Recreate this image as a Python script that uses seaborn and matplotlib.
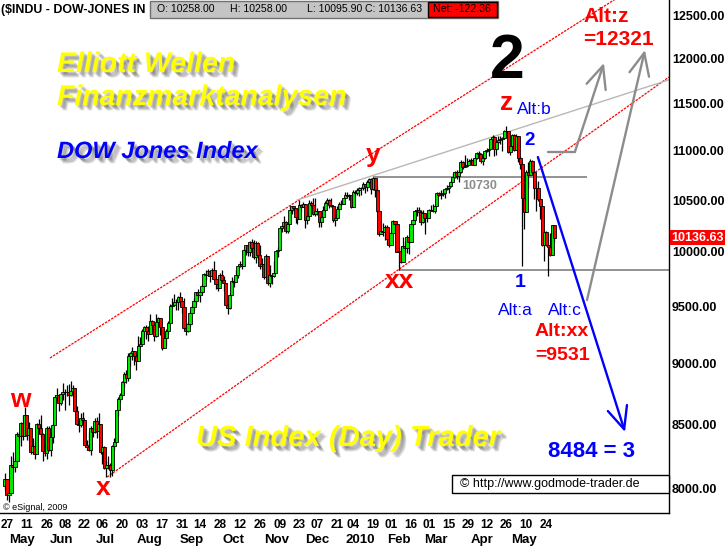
import numpy as np
import pandas as pd
import matplotlib
matplotlib.use("Agg")
import matplotlib.pyplot as plt
import matplotlib.patheffects as pe
import matplotlib.transforms as mtransforms
from matplotlib.patches import Rectangle
from matplotlib.ticker import NullLocator, NullFormatter
import seaborn as sns

# ---------------- data ----------------
start_date = "2009-04-24"
end_date = "2010-05-28"
holidays = ["2009-05-25", "2009-07-03", "2009-09-07", "2009-11-26", "2009-12-25",
            "2010-01-01", "2010-01-18", "2010-02-15", "2010-04-02"]

opens = [8025, 8075, 7955, 7970, 8185, 8168, 8212, 8426, 8410, 8512,
         8410, 8575, 8418, 8469, 8284, 8331, 8268, 8504, 8474, 8422,
         8292, 8277, 8473, 8300, 8404, 8500, 8721, 8740, 8675, 8750,
         8763, 8764, 8763, 8739, 8771, 8799, 8612, 8505, 8497, 8556,
         8540, 8339, 8323, 8300, 8472, 8438, 8529, 8447, 8504, 8280,
         8324, 8163, 8179, 8183, 8147, 8332, 8360, 8616, 8711, 8743,
         8848, 8916, 8882, 9069, 9093, 9108, 9070, 9027, 9155, 9172,
         9287, 9320, 9280, 9256, 9370, 9338, 9242, 9362, 9399, 9321,
         9136, 9218, 9280, 9350, 9506, 9510, 9540, 9543, 9581, 9545,
         9496, 9310, 9281, 9345, 9442, 9497, 9547, 9628, 9606, 9626,
         9684, 9792, 9784, 9821, 9779, 9829, 9748, 9707, 9665, 9789,
         9742, 9712, 9509, 9488, 9600, 9731, 9725, 9786, 9865, 9885,
         9871, 10016, 10063, 9996, 10092, 10041, 9950, 10081, 9972, 9868,
         9883, 9763, 9963, 9713, 9789, 9772, 9803, 10005, 10023, 10227,
         10247, 10291, 10197, 10271, 10407, 10438, 10426, 10332, 10319, 10451,
         10433, 10464, 10310, 10345, 10472, 10453, 10367, 10389, 10390, 10286,
         10338, 10405, 10471, 10502, 10452, 10441, 10309, 10329, 10414, 10464,
         10467, 10520, 10548, 10545, 10548, 10428, 10584, 10573, 10606, 10619,
         10618, 10663, 10628, 10681, 10711, 10610, 10726, 10604, 10390, 10173,
         10196, 10194, 10236, 10120, 10067, 10185, 10297, 10271, 10003, 10012,
         9908, 10058, 10038, 10144, 10099, 10269, 10309, 10392, 10403, 10383,
         10283, 10375, 10321, 10325, 10404, 10405, 10397, 10445, 10567, 10553,
         10564, 10568, 10612, 10625, 10643, 10686, 10734, 10779, 10742, 10786,
         10888, 10836, 10841, 10851, 10896, 10907, 10857, 10927, 10974, 10970,
         10898, 10928, 10998, 11005, 11019, 11123, 11145, 11019, 11093, 11117,
         11125, 11135, 11205, 11206, 10991, 11045, 11168, 11009, 11152, 10926,
         10868, 10520, 10380, 10785, 10749, 10897, 10782, 10620, 10626, 10511,
         10444, 10069, 10193, 10067, 10044, 9974, 10258]

highs = [8119, 8076, 8050, 8250, 8280, 8240, 8437, 8440, 8520, 8580,
         8640, 8575, 8520, 8470, 8390, 8370, 8510, 8545, 8580, 8430,
         8350, 8490, 8490, 8440, 8510, 8740, 8800, 8740, 8760, 8840,
         8790, 8820, 8830, 8860, 8820, 8799, 8650, 8540, 8590, 8600,
         8540, 8380, 8440, 8490, 8480, 8550, 8560, 8590, 8504, 8330,
         8330, 8210, 8250, 8200, 8340, 8390, 8620, 8720, 8760, 8860,
         8930, 8950, 9090, 9100, 9140, 9110, 9080, 9240, 9230, 9300,
         9330, 9340, 9330, 9430, 9380, 9338, 9430, 9410, 9400, 9321,
         9240, 9300, 9370, 9520, 9580, 9610, 9570, 9590, 9630, 9545,
         9580, 9350, 9360, 9460, 9510, 9580, 9630, 9660, 9630, 9700,
         9800, 9830, 9840, 9821, 9850, 9920, 9780, 9740, 9800, 9830,
         9780, 9712, 9530, 9620, 9770, 9750, 9830, 9870, 9920, 9890,
         10030, 10070, 10063, 10100, 10120, 10110, 10100, 10090, 10070, 9940,
         9890, 9980, 9963, 9880, 9790, 9920, 10010, 10050, 10230, 10260,
         10340, 10300, 10290, 10440, 10440, 10440, 10426, 10340, 10500, 10460,
         10480, 10464, 10370, 10500, 10490, 10520, 10520, 10420, 10390, 10350,
         10440, 10490, 10520, 10510, 10520, 10441, 10360, 10440, 10480, 10500,
         10520, 10580, 10580, 10560, 10550, 10600, 10600, 10620, 10630, 10630,
         10680, 10663, 10700, 10720, 10720, 10729, 10726, 10640, 10400, 10270,
         10280, 10260, 10260, 10230, 10190, 10310, 10300, 10271, 10040, 10060,
         10140, 10100, 10160, 10144, 10270, 10320, 10400, 10430, 10430, 10400,
         10400, 10375, 10370, 10410, 10450, 10460, 10450, 10580, 10580, 10600,
         10600, 10615, 10650, 10650, 10700, 10770, 10790, 10800, 10800, 10900,
         10890, 10960, 10930, 10910, 10930, 10920, 10960, 10990, 11000, 10980,
         10950, 11000, 11030, 11030, 11130, 11160, 11150, 11100, 11150, 11150,
         11140, 11220, 11258, 11210, 11060, 11180, 11170, 11170, 11152, 10950,
         10880, 10520, 10805, 10880, 10910, 10900, 10782, 10680, 10690, 10520,
         10444, 10210, 10200, 10067, 10180, 10260, 10258]

lows = [7991, 7920, 7900, 7970, 8120, 8130, 8212, 8340, 8330, 8375,
        8410, 8380, 8370, 8270, 8270, 8230, 8268, 8440, 8400, 8210,
        8250, 8230, 8295, 8250, 8350, 8500, 8690, 8610, 8660, 8700,
        8620, 8730, 8660, 8730, 8720, 8590, 8500, 8440, 8480, 8500,
        8330, 8300, 8290, 8260, 8400, 8430, 8390, 8447, 8270, 8190,
        8150, 8090, 8150, 8090, 8100, 8300, 8360, 8570, 8680, 8743,
        8810, 8840, 8860, 8980, 9030, 8990, 8950, 9027, 9140, 9172,
        9230, 9210, 9200, 9256, 9290, 9200, 9230, 9320, 9250, 9120,
        9136, 9150, 9260, 9350, 9490, 9510, 9470, 9470, 9510, 9440,
        9290, 9250, 9270, 9330, 9442, 9470, 9510, 9580, 9540, 9600,
        9684, 9740, 9780, 9720, 9779, 9740, 9660, 9640, 9665, 9720,
        9640, 9500, 9430, 9480, 9600, 9680, 9725, 9760, 9860, 9840,
        9871, 9970, 9960, 9960, 9990, 9930, 9900, 9930, 9840, 9840,
        9750, 9763, 9690, 9680, 9700, 9770, 9803, 9950, 10023, 10190,
        10247, 10180, 10180, 10271, 10360, 10380, 10280, 10270, 10319, 10380,
        10430, 10230, 10270, 10345, 10420, 10350, 10340, 10350, 10240, 10240,
        10338, 10405, 10460, 10420, 10430, 10290, 10250, 10329, 10414, 10440,
        10467, 10520, 10530, 10500, 10420, 10428, 10530, 10550, 10540, 10550,
        10600, 10570, 10590, 10660, 10560, 10600, 10530, 10370, 10150, 10170,
        10150, 10110, 10080, 10050, 10067, 10185, 10230, 10000, 9835, 9900,
        9908, 9960, 9990, 9980, 10099, 10260, 10300, 10340, 10350, 10260,
        10280, 10170, 10290, 10325, 10390, 10380, 10370, 10445, 10540, 10510,
        10540, 10520, 10600, 10570, 10630, 10686, 10720, 10710, 10680, 10770,
        10810, 10830, 10830, 10850, 10860, 10850, 10857, 10920, 10930, 10870,
        10850, 10920, 10990, 10950, 11019, 11100, 10950, 10960, 11080, 11070,
        11000, 11120, 11190, 10980, 10960, 11045, 11000, 11009, 10880, 10810,
        9870, 10220, 10380, 10620, 10749, 10770, 10510, 10390, 10490, 10320,
        10060, 9920, 10060, 9774, 9960, 9974, 10096]

closes = [8076, 7957, 7970, 8185, 8168, 8212, 8426, 8410, 8512, 8409,
          8575, 8418, 8469, 8284, 8331, 8268, 8504, 8474, 8422, 8292,
          8277, 8473, 8300, 8404, 8500, 8721, 8740, 8675, 8750, 8763,
          8764, 8763, 8739, 8771, 8799, 8612, 8505, 8497, 8556, 8540,
          8339, 8323, 8300, 8472, 8438, 8529, 8447, 8504, 8280, 8324,
          8163, 8179, 8183, 8147, 8332, 8360, 8616, 8711, 8743, 8848,
          8916, 8882, 9069, 9093, 9108, 9070, 9027, 9155, 9172, 9287,
          9320, 9280, 9256, 9370, 9338, 9242, 9362, 9399, 9321, 9136,
          9218, 9280, 9350, 9506, 9510, 9540, 9543, 9581, 9545, 9496,
          9310, 9281, 9345, 9442, 9497, 9547, 9628, 9606, 9626, 9684,
          9792, 9784, 9821, 9779, 9829, 9748, 9707, 9665, 9789, 9742,
          9712, 9509, 9488, 9600, 9731, 9725, 9786, 9865, 9885, 9871,
          10016, 10063, 9996, 10092, 10041, 9950, 10081, 9972, 9868, 9883,
          9763, 9963, 9713, 9789, 9772, 9803, 10005, 10023, 10227, 10247,
          10291, 10197, 10271, 10407, 10438, 10426, 10332, 10319, 10451, 10433,
          10464, 10310, 10345, 10472, 10453, 10367, 10389, 10390, 10286, 10338,
          10405, 10471, 10502, 10452, 10441, 10309, 10329, 10414, 10464, 10467,
          10520, 10548, 10545, 10548, 10428, 10584, 10573, 10606, 10619, 10618,
          10663, 10628, 10681, 10711, 10610, 10726, 10604, 10390, 10173, 10196,
          10194, 10236, 10120, 10067, 10185, 10297, 10271, 10003, 10012, 9908,
          10058, 10038, 10144, 10099, 10269, 10309, 10392, 10403, 10383, 10283,
          10375, 10321, 10325, 10404, 10405, 10397, 10445, 10567, 10553, 10564,
          10568, 10612, 10625, 10643, 10686, 10734, 10779, 10742, 10786, 10888,
          10836, 10841, 10851, 10896, 10907, 10857, 10927, 10974, 10970, 10898,
          10928, 10998, 11005, 11019, 11123, 11145, 11019, 11093, 11117, 11125,
          11135, 11205, 11206, 10991, 11045, 11168, 11009, 11152, 10926, 10868,
          10520, 10380, 10785, 10749, 10897, 10782, 10620, 10626, 10511, 10444,
          10069, 10193, 10067, 10044, 9974, 10259, 10137]

tick_dates = ["2009-04-27", "2009-05-11", "2009-05-26", "2009-06-08", "2009-06-22",
              "2009-07-06", "2009-07-20", "2009-08-03", "2009-08-17", "2009-08-31",
              "2009-09-14", "2009-09-28", "2009-10-12", "2009-10-26", "2009-11-09",
              "2009-11-23", "2009-12-07", "2009-12-21", "2010-01-04", "2010-01-19",
              "2010-02-01", "2010-02-16", "2010-03-01", "2010-03-15", "2010-03-29",
              "2010-04-12", "2010-04-26", "2010-05-10", "2010-05-24"]
tick_labels = ["27", "11", "26", "08", "22", "06", "20", "03", "17", "31", "14", "28",
               "12", "26", "09", "23", "07", "21", "04", "19", "01", "16", "01", "15",
               "29", "12", "26", "10", "24"]
month_labels = ["May", "Jun", "Jul", "Aug", "Sep", "Oct", "Nov", "Dec", "2010",
                "Feb", "Mar", "Apr", "May"]
month_starts = ["2009-05-01", "2009-06-01", "2009-07-01", "2009-08-03", "2009-09-01",
                "2009-10-01", "2009-11-02", "2009-12-01", "2010-01-04", "2010-02-01",
                "2010-03-01", "2010-04-01", "2010-05-03"]
y_ticks = [8000, 8500, 9000, 9500, 10000, 10500, 11000, 11500, 12000, 12500]

hdr_open, hdr_high, hdr_low, hdr_close, hdr_net = 10258.00, 10258.00, 10095.90, 10136.63, -122.36
last_close = 10136.63
level_10730 = 10730
level_xx = 9832

# annotation geometry (trading-day index, price)
upper_channel_x, upper_channel_y = [22.6, 310.0], [9050, 12738]
lower_channel_x, lower_channel_y = [51.3, 333.7], [8090, 11791]
silver_x, silver_y = [146.7, 333.7], [10501, 11760]
line10730_x = [185, 292.5]
linexx_x = [198, 334]
blue_start, blue_end = (267.8, 10935), (311.6, 8441)
alt1_flat_x, alt1_flat_y = [272.9, 286.4], [10988, 10988]
alt1_tip = (301.0, 11948)
alt2_start, alt2_tip = (292.5, 9558), (321.6, 12095)

# ---------------- figure ----------------
sns.set_style("white")
plt.rcParams["font.family"] = ["Liberation Sans", "DejaVu Sans"]

W, H = 726, 547
fig = plt.figure(figsize=(W / 100, H / 100), dpi=100)
fig.patch.set_facecolor("white")
ax = fig.add_axes([0, (H - 513) / H, 669 / W, 513 / H])
ax.set_facecolor("white")

dates = pd.bdate_range(start_date, end_date)
dates = dates[~dates.isin(pd.to_datetime(holidays))]
n = min(len(dates), len(closes))
dates = dates[:n]
o = np.array(opens[:n], float)
h = np.array(highs[:n], float)
l = np.array(lows[:n], float)
c = np.array(closes[:n], float)
xi = np.arange(n)

ax.set_yscale("log")
ax.set_xlim(-2.51, 333.7)
ax.set_ylim(7821, 12678)

# trend / channel lines
red_dot = (0, (2.0, 0.9))
sns.lineplot(x=upper_channel_x, y=upper_channel_y, ax=ax, color="#ff0000", lw=0.9,
             linestyle=red_dot, errorbar=None, sort=False, zorder=1)
sns.lineplot(x=lower_channel_x, y=lower_channel_y, ax=ax, color="#ff0000", lw=0.9,
             linestyle=red_dot, errorbar=None, sort=False, zorder=1)
sns.lineplot(x=silver_x, y=silver_y, ax=ax, color="#b8b8b8", lw=1.0,
             errorbar=None, sort=False, zorder=1)
ax.hlines(level_10730, line10730_x[0], line10730_x[1], color="#8a8a8a", lw=1.3, zorder=1)
ax.hlines(level_xx, linexx_x[0], linexx_x[1], color="#8a8a8a", lw=1.3, zorder=1)

# candles
up = c >= o
body_colors = np.where(up, "#00e800", "#ff0000")
ax.vlines(xi, l, h, color="black", lw=0.9, zorder=3)
bottoms = np.minimum(o, c)
heights = np.maximum(np.maximum(o, c) - bottoms, 0.5)
ax.bar(xi, heights, bottom=bottoms, width=1.6, color=body_colors,
       edgecolor="black", linewidth=0.6, zorder=4)

# arrows
blue = "#0000ff"
gray = "#8c8c8c"
astyle = "->,head_length=1.0,head_width=0.45"
ax.annotate("", xy=blue_end, xytext=blue_start,
            arrowprops=dict(arrowstyle=astyle, color=blue, lw=1.7, mutation_scale=16,
                            shrinkA=0, shrinkB=0), zorder=5)
sns.lineplot(x=alt1_flat_x, y=alt1_flat_y, ax=ax, color=gray, lw=1.7,
             errorbar=None, sort=False, zorder=5)
ax.annotate("", xy=alt1_tip, xytext=(alt1_flat_x[1], alt1_flat_y[1]),
            arrowprops=dict(arrowstyle=astyle, color=gray, lw=1.7, mutation_scale=16,
                            shrinkA=0, shrinkB=0), zorder=5)
ax.annotate("", xy=alt2_tip, xytext=alt2_start,
            arrowprops=dict(arrowstyle=astyle, color=gray, lw=1.7, mutation_scale=16,
                            shrinkA=0, shrinkB=0), zorder=5)

# axes styling
for s in ("left", "top"):
    ax.spines[s].set_visible(False)
for s in ("right", "bottom"):
    ax.spines[s].set_visible(True)
    ax.spines[s].set_color("black")
    ax.spines[s].set_linewidth(1.0)
ax.grid(False)

ax.yaxis.tick_right()
ax.yaxis.set_minor_locator(NullLocator())
ax.yaxis.set_minor_formatter(NullFormatter())
ax.set_yticks(y_ticks)
ax.set_yticklabels([f"{v:.2f}" for v in y_ticks], fontsize=9, fontweight="bold")
ax.tick_params(axis="y", length=0, pad=2.2, labelcolor="black")

tick_idx = dates.get_indexer(pd.to_datetime(tick_dates))
ax.set_xticks(tick_idx)
ax.set_xticklabels(tick_labels, fontsize=8.5, fontweight="bold")
ax.tick_params(axis="x", length=0, pad=4.5, labelcolor="black")
ax.set_xlabel("")
ax.set_ylabel("")

month_idx = dates.get_indexer(pd.to_datetime(month_starts))
trans_m = mtransforms.blended_transform_factory(ax.transData, fig.transFigure)
for mi, ml in zip(month_idx, month_labels):
    ax.text(mi + 3.7, 1 - 540 / H, ml, transform=trans_m, ha="center", va="center",
            fontsize=9.5, fontweight="bold", color="black", clip_on=False)

# last price box on the right axis
trans_r = mtransforms.blended_transform_factory(ax.transAxes, ax.transData)
ax.text(1.003, last_close, f"{last_close:.2f}", transform=trans_r, ha="left", va="center",
        fontsize=9, fontweight="bold", color="white", clip_on=False, zorder=10,
        bbox=dict(boxstyle="square,pad=0.12", fc="#ff0000", ec="none"))


# ---------------- texts ----------------
def label(x, y, s, size, color, weight="bold", style="normal", ha="left", va="baseline",
          effects=None, **kw):
    fig.text(x / W, 1 - y / H, s, fontsize=size, color=color, fontweight=weight,
             fontstyle=style, ha=ha, va=va, path_effects=effects, **kw)


shadow = [pe.SimplePatchShadow(offset=(d, -d), shadow_rgbFace="#000000", alpha=0.13)
          for d in (1.5, 2.3, 3.1, 3.9)] + [pe.Normal()]

label(57, 72, "Elliott Wellen", 20.5, "#ffff00", style="italic", effects=shadow)
label(57, 105, "Finanzmarktanalysen", 20.5, "#ffff00", style="italic", effects=shadow)
label(57, 158, "DOW Jones Index", 17, "#0000ff", style="italic", effects=shadow)
label(196, 446, "US Index (Day) Trader", 21, "#ffff00", style="italic", effects=shadow)

label(507, 78, "2", 45, "black", ha="center")

red = "#ff0000"
label(20, 407, "w", 19, red, ha="center")
label(103, 495, "x", 19, red, ha="center")
label(373, 162, "y", 19, red, ha="center")
label(399, 288, "xx", 19, red, ha="center")
label(507, 110, "z", 19, red, ha="center")

label(517, 114, "Alt:b", 12.5, blue, weight="normal")
label(530, 145, "2", 13.5, blue, ha="center")
label(520, 287, "1", 14, blue, ha="center")
label(498, 315, "Alt:a", 12.5, blue, weight="normal")
label(548, 315, "Alt:c", 12.5, blue, weight="normal")
label(535, 336, "Alt:xx", 14, red)
label(535, 360, "=9531", 14, red)
label(548, 457, "8484 = 3", 16, blue)
label(583, 22, "Alt:z", 15, red)
label(583, 45, "=12321", 15, red)
label(480, 186, "10730", 9, "#8c8c8c", va="center", ha="center")

label(3, 507, "\u00a9 eSignal, 2009", 6.5, "black", weight="normal", va="center")

# copyright box
fig.add_artist(Rectangle((452 / W, 1 - 493 / H), (669 - 452) / W, 18 / H,
                         transform=fig.transFigure, fc="white", ec="black", lw=1.0, zorder=5))
label(460, 484, "\u00a9 http://www.godmode-trader.de", 9, "black", weight="normal",
      va="center", zorder=6)

# header
label(1, 9.5, "($INDU - DOW-JONES IN", 8.9, "black", va="center")
fig.add_artist(Rectangle((150 / W, 1 - 18 / H), (498 - 150) / W, 17 / H,
                         transform=fig.transFigure, fc="#c4c4c4", ec="#707070", lw=1.0, zorder=5))
fig.add_artist(Rectangle((428 / W, 1 - 17 / H), (497 - 428) / W, 15 / H,
                         transform=fig.transFigure, fc="#ff0000", ec="black", lw=1.0, zorder=6))
hdr_kw = dict(weight="normal", va="center", zorder=7)
label(157, 9.5, f"O: {hdr_open:.2f}", 7.6, "black", **hdr_kw)
label(230, 9.5, f"H: {hdr_high:.2f}", 7.6, "black", **hdr_kw)
label(307, 9.5, f"L: {hdr_low:.2f}", 7.6, "black", **hdr_kw)
label(365, 9.5, f"C: {hdr_close:.2f}", 7.6, "black", **hdr_kw)
label(433, 9.5, f"Net: {hdr_net:.2f}", 7.6, "black", **hdr_kw)

fig.savefig("out.png", dpi=100, facecolor="white")
